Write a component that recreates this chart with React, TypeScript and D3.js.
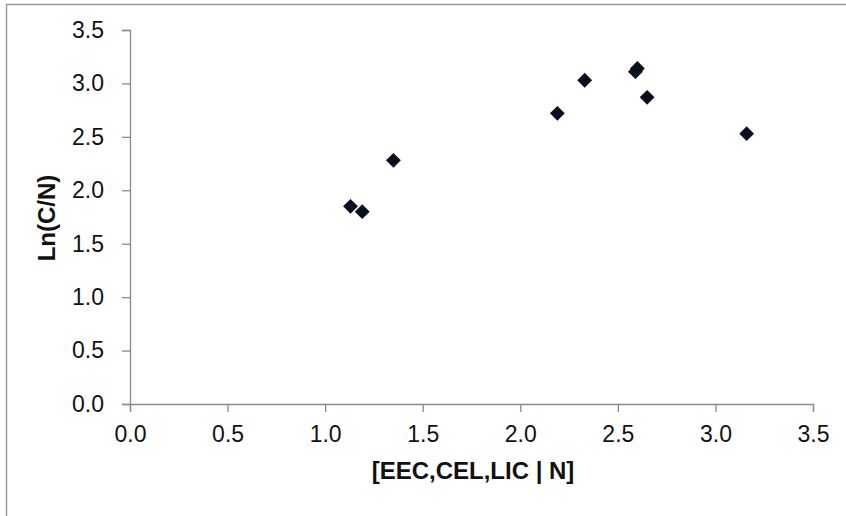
import React, { useEffect, useRef } from 'react';
import * as d3 from 'd3';

// x = [EEC,CEL,LIC | N], y = Ln(C/N)
const xValues = [1.13, 1.19, 1.35, 2.19, 2.33, 2.59, 2.6, 2.65, 3.16];
const yValues = [1.85, 1.8, 2.28, 2.72, 3.03, 3.11, 3.14, 2.87, 2.53];
const xTicks = [0, 0.5, 1, 1.5, 2, 2.5, 3, 3.5];
const yTicks = [0, 0.5, 1, 1.5, 2, 2.5, 3, 3.5];

const App = () => {
  const ref = useRef<SVGSVGElement>(null);

  useEffect(() => {
    const width = 846;
    const height = 516;
    const margin = { top: 30, right: 33, bottom: 112, left: 130 };

    const svg = d3.select(ref.current);
    svg.selectAll('*').remove();

    svg.append('rect').attr('width', width).attr('height', height).attr('fill', '#fff');

    // outer chart border (only top and left visible in the crop)
    svg.append('path')
      .attr('d', `M6.5,${height} V4.5 H${width}`)
      .attr('fill', 'none')
      .attr('stroke', '#9a9a9a')
      .attr('stroke-width', 1.5);

    const x = d3.scaleLinear().domain([0, 3.5]).range([margin.left, width - margin.right]);
    const y = d3.scaleLinear().domain([0, 3.5]).range([height - margin.bottom, margin.top]);

    const font = 'Arial, "Liberation Sans", sans-serif';

    // x axis
    const xAxis = svg.append('g')
      .attr('transform', `translate(0,${y(0)})`)
      .call(d3.axisBottom(x).tickValues(xTicks).tickFormat(d3.format('.1f')).tickSize(8).tickPadding(14));
    xAxis.select('.domain').attr('stroke', '#8a8a8a').attr('stroke-width', 1.3);
    xAxis.selectAll('.tick line').attr('stroke', '#8a8a8a').attr('stroke-width', 1.3);
    xAxis.selectAll('text').attr('fill', '#111').style('font-family', font).style('font-size', '23px');

    // y axis
    const yAxis = svg.append('g')
      .attr('transform', `translate(${x(0)},0)`)
      .call(d3.axisLeft(y).tickValues(yTicks).tickFormat(d3.format('.1f')).tickSize(8).tickPadding(18));
    yAxis.select('.domain').attr('stroke', '#8a8a8a').attr('stroke-width', 1.3);
    yAxis.selectAll('.tick line').attr('stroke', '#8a8a8a').attr('stroke-width', 1.3);
    yAxis.selectAll('text').attr('fill', '#111').style('font-family', font).style('font-size', '23px');

    // markers
    const diamond = d3.symbol().type(d3.symbolSquare).size(110);
    svg.selectAll('.pt')
      .data(xValues.map((v, i) => [v, yValues[i]]))
      .enter()
      .append('path')
      .attr('class', 'pt')
      .attr('d', diamond)
      .attr('transform', d => `translate(${x(d[0])},${y(d[1])}) rotate(45)`)
      .attr('fill', '#0a0f1e');

    // axis titles
    svg.append('text')
      .attr('x', 473)
      .attr('y', 479)
      .attr('text-anchor', 'middle')
      .style('font-family', font)
      .style('font-weight', 'bold')
      .style('font-size', '24px')
      .attr('fill', '#111')
      .text('[EEC,CEL,LIC | N]');

    svg.append('text')
      .attr('transform', 'translate(55,218) rotate(-90)')
      .attr('text-anchor', 'middle')
      .style('font-family', font)
      .style('font-weight', 'bold')
      .style('font-size', '24px')
      .attr('fill', '#111')
      .text('Ln(C/N)');
  }, []);

  return (
    <svg
      ref={ref}
      width={846}
      height={516}
      style={{ position: 'absolute', left: 0, top: 0 }}
    />
  );
};

export default App;
